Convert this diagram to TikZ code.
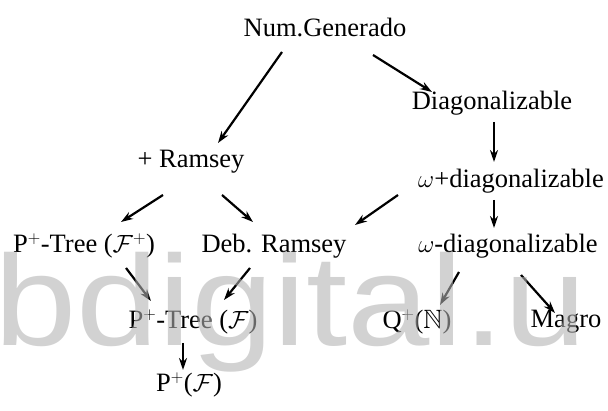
\documentclass[tikz,border=0pt]{standalone}
\usepackage{amssymb}
\usepackage{fontspec}
\setmainfont{Liberation Serif}
\newfontfamily\wmfont{Liberation Sans}
\usetikzlibrary{arrows.meta}
\begin{document}
\begin{tikzpicture}[x=1pt,y=-1pt,
  lbl/.style={inner sep=0pt,font=\fontsize{26.5}{28}\selectfont},
  arr/.style={line width=2.2pt,-{Stealth[length=12pt,width=8pt]}}]
\useasboundingbox (0,0) rectangle (608,411);
% statements
\node[lbl] (num)   at (325,27)  {Num.Generado};
\node[lbl] (diag)  at (492,103) {Diagonalizable};
\node[lbl] (ram)   at (191,162) {+ Ramsey};
\node[lbl] (wpd)   at (511,181) {$\omega$+diagonalizable};
\node[lbl] (ptfp)  at (84,246)  {P$^+$-Tree ($\mathcal{F}^+$)};
\node[lbl] (deb)   at (274,246) {Deb. Ramsey};
\node[lbl] (wd)    at (508,246) {$\omega$-diagonalizable};
\node[lbl] (ptf)   at (193,322) {P$^+$-Tree ($\mathcal{F}$)};
\node[lbl] (qn)    at (417,322) {Q$^+$($\mathbb{N}$)};
\node[lbl] (magro) at (566,322) {Magro};
\node[lbl] (pf)    at (189,385) {P$^+$($\mathcal{F}$)};
% implications
\draw[arr] ([shift={(-43,25)}]num.center) -- ([shift={(27,-19)}]ram.center);
\draw[arr] ([shift={(48,28)}]num.center) -- ([shift={(-60,-11)}]diag.center);
\draw[arr] ([shift={(2,19)}]diag.center) -- ([shift={(-17,-19)}]wpd.center);
\draw[arr] ([shift={(-17,19)}]wpd.center) -- ([shift={(-14,-18)}]wd.center);
\draw[arr] ([shift={(-28,33)}]ram.center) -- ([shift={(37,-24)}]ptfp.center);
\draw[arr] ([shift={(31,33)}]ram.center) -- ([shift={(-21,-24)}]deb.center);
\draw[arr] ([shift={(-113,14)}]wpd.center) -- ([shift={(81,-21)}]deb.center);
\draw[arr] ([shift={(42,22)}]ptfp.center) -- ([shift={(-42,-21)}]ptf.center);
\draw[arr] ([shift={(-24,22)}]deb.center) -- ([shift={(31,-22)}]ptf.center);
\draw[arr] ([shift={(-49,26)}]wd.center) -- ([shift={(23,-17)}]qn.center);
\draw[arr] ([shift={(13,29)}]wd.center) -- ([shift={(-11,-9)}]magro.center);
\draw[arr] ([shift={(-10,21)}]ptf.center) -- ([shift={(-6,-15)}]pf.center);
% repository stamp
\node[anchor=base west,inner sep=0pt,text=black!30,opacity=0.58,
      font=\wmfont\fontsize{148}{150}\selectfont] (stamp) at (-6,346)
      {\scalebox{1}[0.87]{bdigital.u}};
\end{tikzpicture}
\end{document}
